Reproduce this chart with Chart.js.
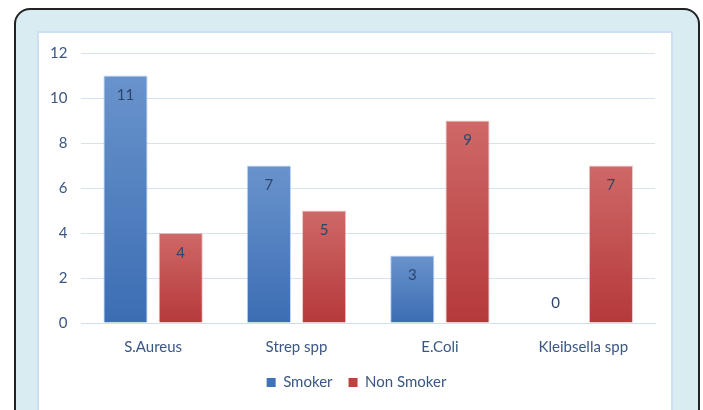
<!DOCTYPE html>
<html><head><meta charset="utf-8">
<script src="https://cdn.jsdelivr.net/npm/chart.js@4.4.1/dist/chart.umd.min.js"></script>
<style>
html,body{margin:0;padding:0;background:#fff;width:703px;height:410px;overflow:hidden;position:relative}
#outer{position:absolute;left:14px;top:8px;width:682px;height:430px;border:2px solid #222;border-radius:16px;background:#d9ecf1}
#inner{position:absolute;left:37px;top:31px;width:632px;height:420px;border:2px solid #cddff2;background:#fff}
#wrap{position:absolute;left:0;top:0;width:703px;height:410px}
</style></head><body>
<div id="outer"></div><div id="inner"></div>
<div id="wrap"><canvas id="c" width="703" height="410"></canvas></div>
<script>
const categories = ["S.Aureus", "Strep spp", "E.Coli", "Kleibsella spp"];
const smoker = [11, 7, 3, 0];
const nonSmoker = [4, 5, 9, 7];
const yTicks = [0, 2, 4, 6, 8, 10, 12];

function grad(ctx, top, bottom) {
  const chart = ctx.chart;
  const ys = chart.scales.y;
  if (!chart.chartArea || !ys || ctx.raw === undefined) return bottom;
  const y0 = ys.getPixelForValue(ctx.raw);
  const y1 = ys.getPixelForValue(0);
  if (!isFinite(y0) || !isFinite(y1) || y1 - y0 < 1) return bottom;
  const g = chart.ctx.createLinearGradient(0, y0, 0, y1);
  g.addColorStop(0, top);
  g.addColorStop(1, bottom);
  return g;
}

const labelPlugin = {
  id: 'vals',
  afterDatasetsDraw(chart) {
    const ctx = chart.ctx;
    ctx.save();
    ctx.font = '15px Lato';
    ctx.fillStyle = '#2c456e';
    ctx.textAlign = 'center';
    ctx.textBaseline = 'middle';
    chart.data.datasets.forEach((ds, i) => {
      chart.getDatasetMeta(i).data.forEach((bar, j) => {
        const v = ds.data[j];
        ctx.fillText(String(v), bar.x, v === 0 ? bar.y - 20 : bar.y + 20);
      });
    });
    ctx.restore();
  }
};

const legendShift = {
  id: 'legendShift',
  afterLayout(chart) {
    const L = chart.legend;
    if (!L) return;
    L.left += 11; L.right += 11;
    L.top -= 4; L.bottom -= 4;
  }
};

new Chart(document.getElementById('c'), {
  type: 'bar',
  data: {
    labels: categories,
    datasets: [
      { label: 'Smoker', data: smoker, backgroundColor: c => grad(c, '#6993cc', '#3c6db3'), borderColor: 'rgba(150,180,225,0.6)', borderWidth: 1 },
      { label: 'Non Smoker', data: nonSmoker, backgroundColor: c => grad(c, '#cf6868', '#b5393a'), borderColor: 'rgba(230,160,160,0.6)', borderWidth: 1 }
    ]
  },
  options: {
    responsive: false,
    animation: false,
    devicePixelRatio: 1,
    layout: { padding: { left: 36, right: 48, top: 53, bottom: 6 } },
    datasets: { bar: { categoryPercentage: 0.77, barPercentage: 0.8 } },
    scales: {
      x: {
        grid: { display: false },
        border: { color: '#cddff0', width: 1 },
        ticks: { color: '#3a5784', font: { family: 'Lato', size: 15 }, padding: 7 }
      },
      y: {
        min: 0, max: 12,
        afterBuildTicks: ax => { ax.ticks = yTicks.map(v => ({ value: v })); },
        grid: { color: '#d3e3f2', drawTicks: false },
        border: { display: false },
        ticks: { color: '#3a5784', font: { family: 'Lato', size: 15 }, padding: 14 }
      }
    },
    plugins: {
      legend: {
        position: 'bottom',
        labels: { boxWidth: 9, boxHeight: 9, padding: 16, color: '#3a5784', font: { family: 'Lato', size: 15 }, useBorderRadius: false,
          generateLabels: ch => ch.data.datasets.map((d, i) => ({ text: d.label, fillStyle: i === 0 ? '#3f72b8' : '#c0403f', strokeStyle: 'transparent', lineWidth: 0, datasetIndex: i, fontColor: '#3a5784' })) }
      },
      tooltip: { enabled: false }
    }
  },
  plugins: [labelPlugin, legendShift]
});
</script>
</body></html>
